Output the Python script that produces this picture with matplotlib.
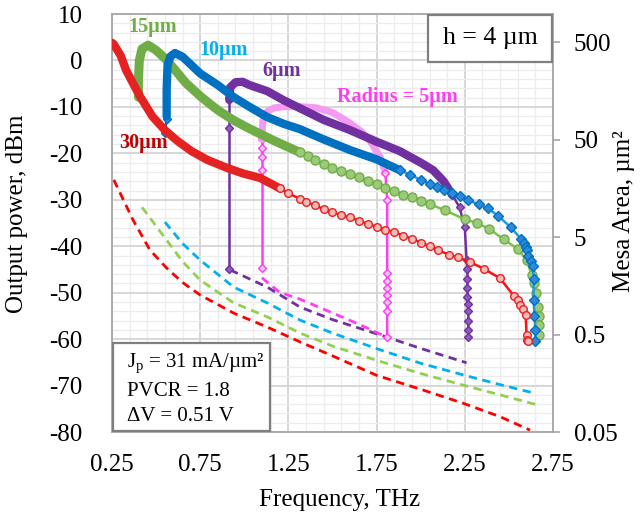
import numpy as np
import matplotlib
matplotlib.use("Agg")
from matplotlib import pyplot as plt
from matplotlib.patches import Rectangle
from matplotlib.ticker import FixedLocator, NullLocator

plt.rcParams['font.family'] = ['Liberation Serif', 'DejaVu Serif']
plt.rcParams['mathtext.fontset'] = 'custom'
plt.rcParams['mathtext.rm'] = 'Liberation Serif'
plt.rcParams['mathtext.it'] = 'Liberation Serif:italic'

# ---- 30 um (red) ----
r30_band_f = [0.25, 0.26, 0.30, 0.33, 0.37, 0.41, 0.48, 0.55, 0.62, 0.70, 0.79, 0.90, 0.99, 1.09, 1.20]
r30_band_p = [3.8, 3.5, 1.0, -2.1, -5.0, -7.8, -12.1, -15.0, -17.3, -19.5, -21.4, -23.1, -24.3, -25.3, -27.5]
r30_f = [1.20, 1.25, 1.316, 1.35, 1.40, 1.45, 1.50, 1.55, 1.60, 1.65, 1.70, 1.75, 1.80, 1.85, 1.90,
         1.95, 2.00, 2.05, 2.10, 2.16, 2.21, 2.28, 2.36, 2.45, 2.53, 2.55, 2.565, 2.58, 2.595, 2.60,
         2.605, 2.61]
r30_p = [-27.5, -28.6, -29.8, -30.4, -31.2, -32.0, -32.7, -33.3, -33.8, -34.5, -35.2, -35.8, -36.4,
         -37.0, -37.7, -38.4, -39.2, -40.0, -40.9, -41.8, -42.4, -43.4, -44.9, -46.9, -50.8, -51.6,
         -52.6, -53.6, -54.8, -59.1, -60.2, -60.5]

# ---- 15 um (green) ----
g15_band_f = [0.40, 0.40, 0.405, 0.42, 0.455, 0.50, 0.56, 0.67, 0.76, 0.85, 0.94, 1.03, 1.17, 1.316]
g15_band_p = [-7.9, -4.0, 0.0, 2.5, 3.3, 2.2, 0.1, -4.9, -8.0, -10.7, -12.9, -14.7, -17.3, -19.8]
g15_f = [1.316, 1.36, 1.40, 1.45, 1.50, 1.55, 1.60, 1.65, 1.70, 1.75, 1.80, 1.85, 1.90, 1.95, 2.00,
         2.05, 2.14, 2.25, 2.32, 2.39, 2.47, 2.55, 2.60, 2.63, 2.645, 2.655, 2.665, 2.67, 2.67, 2.67]
g15_p = [-19.8, -20.6, -21.4, -22.3, -23.1, -23.8, -24.4, -25.2, -26.0, -26.7, -27.4, -28.1, -28.9,
         -29.5, -30.2, -30.9, -32.3, -34.2, -35.0, -36.3, -38.5, -40.6, -43.0, -46.2, -48.0, -50.0,
         -53.0, -55.0, -57.0, -59.1]

# ---- 10 um (blue) ----
b10_stem_f = [0.55, 0.56]
b10_stem_p = [-15.7, -12.6]
b10_band_f = [0.56, 0.56, 0.565, 0.58, 0.607, 0.65, 0.75, 0.85, 0.94, 1.03, 1.13, 1.22, 1.316, 1.45,
              1.60, 1.75, 1.88]
b10_band_p = [-12.0, -6.0, -1.0, 0.8, 1.6, 0.8, -2.8, -5.3, -7.9, -10.0, -12.2, -13.6, -14.8, -17.0,
              -19.3, -21.3, -23.6]
b10_f = [1.88, 1.94, 2.00, 2.05, 2.09, 2.13, 2.18, 2.22, 2.27, 2.33, 2.38, 2.44, 2.51, 2.57, 2.585,
         2.595, 2.60, 2.61, 2.625, 2.635, 2.64, 2.64, 2.645, 2.65, 2.65]
b10_p = [-23.6, -24.6, -25.7, -26.6, -27.3, -27.9, -28.5, -29.2, -30.1, -31.0, -31.8, -33.5, -35.9,
         -38.5, -39.3, -40.2, -40.8, -42.0, -43.2, -44.3, -47.0, -51.6, -55.0, -58.0, -60.3]

# ---- 6 um (purple) ----
p6_stem_f = [0.915, 0.915, 0.915]
p6_stem_p = [-45.0, -14.5, -8.0]
p6_band_f = [0.915, 0.92, 0.95, 0.99, 1.03, 1.13, 1.22, 1.316, 1.45, 1.60, 1.75, 1.88, 2.00, 2.07,
             2.13, 2.18]
p6_band_p = [-8.5, -5.8, -4.7, -4.6, -5.3, -6.6, -8.5, -10.3, -12.8, -15.0, -17.5, -19.5, -22.0,
             -23.6, -26.0, -29.0]
p6_tail_f = [2.18, 2.22, 2.25, 2.26, 2.265, 2.265, 2.265, 2.265, 2.267, 2.27, 2.27, 2.27, 2.27]
p6_tail_p = [-29.0, -31.6, -35.9, -43.0, -45.0, -47.0, -49.0, -51.0, -52.5, -54.0, -56.0, -58.0, -59.6]

# ---- 5 um (magenta) ----
m5_stem_f = [1.10, 1.10, 1.10, 1.10, 1.10]
m5_stem_p = [-44.7, -23.6, -20.8, -18.9, -17.0]
m5_band_f = [1.10, 1.105, 1.13, 1.17, 1.22, 1.30, 1.41, 1.50, 1.60, 1.66, 1.71, 1.77, 1.80]
m5_band_p = [-17.0, -13.0, -11.0, -10.2, -10.0, -9.9, -10.2, -11.2, -13.5, -15.2, -17.1, -20.8, -24.2]
m5_tail_f = [1.80, 1.81, 1.81, 1.81, 1.81, 1.81, 1.81, 1.81, 1.81]
m5_tail_p = [-24.2, -30.0, -45.8, -47.5, -49.0, -50.5, -52.0, -54.0, -59.6]

# ---- dashed curves ----
r30_d_f = [0.26, 0.37, 0.465, 0.56, 0.65, 0.75, 0.94, 1.13, 1.316, 1.50, 1.75, 2.00, 2.24, 2.45, 2.62]
r30_d_p = [-25.7, -34.4, -40.8, -44.7, -47.8, -50.5, -54.4, -57.4, -60.6, -63.6, -67.8, -70.8, -73.8,
           -76.7, -79.6]
g15_d_f = [0.42, 0.56, 0.65, 0.75, 0.94, 1.13, 1.316, 1.50, 1.77, 2.00, 2.24, 2.45, 2.665]
g15_d_p = [-31.6, -38.7, -43.3, -47.3, -52.2, -55.2, -58.7, -61.5, -64.8, -67.4, -69.9, -72.0, -74.2]
b10_d_f = [0.55, 0.65, 0.75, 0.94, 1.13, 1.316, 1.50, 1.77, 2.00, 2.24, 2.45, 2.64]
b10_d_p = [-34.8, -39.4, -43.0, -48.8, -52.2, -55.9, -58.7, -62.3, -65.2, -67.7, -69.8, -71.6]
p6_d_f = [0.92, 1.13, 1.316, 1.50, 1.77, 2.00, 2.26]
p6_d_p = [-45.1, -48.8, -53.1, -55.8, -59.1, -62.0, -65.1]
m5_d_f = [1.10, 1.20, 1.316, 1.49, 1.65, 1.81]
m5_d_p = [-46.8, -49.9, -51.4, -54.2, -56.8, -59.6]

x_ticks = [0.25, 0.75, 1.25, 1.75, 2.25, 2.75]
y_ticks = [-80, -70, -60, -50, -40, -30, -20, -10, 0, 10]
area_ticks = [0.05, 0.5, 5, 50, 500]

RED, GREEN, BLUE, PURPLE, MAG = '#E52222', '#70AD47', '#0070C0', '#7030A0', '#FF3DF5'

fig = plt.figure(figsize=(6.44, 5.21), dpi=100)
ax = fig.add_axes([0.1739, 0.1708, 0.6848, 0.8023])

# dashed
ax.plot(r30_d_f, r30_d_p, '--', color='#FF0000', lw=2, dashes=(3, 2), zorder=2)
ax.plot(g15_d_f, g15_d_p, '--', color='#92D050', lw=2, dashes=(3, 2), zorder=2)
ax.plot(b10_d_f, b10_d_p, '--', color='#00B0F0', lw=2, dashes=(3, 2), zorder=2)
ax.plot(p6_d_f, p6_d_p, '--', color=PURPLE, lw=2, dashes=(3, 2), zorder=2)
ax.plot(m5_d_f, m5_d_p, '--', color=MAG, lw=2, dashes=(3, 2), zorder=2)

# 5 um
ax.plot(m5_stem_f, m5_stem_p, color=MAG, lw=1.8, marker='D', ms=4.5, mfc='#E8C8E8', mec=MAG, zorder=3)
ax.plot(m5_band_f, m5_band_p, color='#F49AF0', lw=5, solid_capstyle='round', zorder=3)
ax.plot(m5_tail_f, m5_tail_p, color=MAG, lw=1.8, marker='D', ms=4.5, mfc='#E8C8E8', mec=MAG, zorder=3)

# 6 um
ax.plot(p6_stem_f, p6_stem_p, color=PURPLE, lw=1.8, marker='D', ms=4.5, mfc='#8E5CC0', mec=PURPLE, zorder=4)
ax.plot(p6_band_f, p6_band_p, color=PURPLE, lw=6, solid_capstyle='round', zorder=4)
ax.plot(p6_tail_f, p6_tail_p, color=PURPLE, lw=1.8, marker='D', ms=4.5, mfc='#8E5CC0', mec=PURPLE, zorder=4)

# 15 um
ax.plot(g15_band_f, g15_band_p, color=GREEN, lw=6.5, solid_capstyle='round', zorder=5)
ax.plot(g15_f, g15_p, color='#7CC242', lw=1.8, marker='o', ms=6.5, mfc='#9BCB78', mec=GREEN, zorder=5)

# 10 um
ax.plot(b10_stem_f, b10_stem_p, color=BLUE, lw=1.8, marker='D', ms=4.5, mfc='#2E8AD8', mec=BLUE, zorder=6)
ax.plot(b10_band_f, b10_band_p, color=BLUE, lw=6, solid_capstyle='round', zorder=6)
ax.plot(b10_f, b10_p, color='#1E9BE0', lw=1.8, marker='D', ms=5, mfc='#2E8AD8', mec=BLUE, zorder=6)

# 30 um
ax.plot(r30_band_f, r30_band_p, color=RED, lw=6, solid_capstyle='round', zorder=7)
ax.plot(r30_f, r30_p, color='#FF1010', lw=1.8, marker='o', ms=5.5, mfc='#F6B8B8', mec=RED, zorder=7)

ax.set_xlim(0.25, 2.75)
ax.set_ylim(-80, 10)
ax.xaxis.set_major_locator(FixedLocator(x_ticks))
ax.xaxis.set_minor_locator(FixedLocator(np.arange(0.25, 2.76, 0.1)))
ax.yaxis.set_major_locator(FixedLocator(y_ticks))
ax.yaxis.set_minor_locator(FixedLocator(np.arange(-80, 11, 2)))
ax.set_xticklabels([f"{t:.2f}" for t in x_ticks])
ax.set_yticklabels([str(t) for t in y_ticks])
ax.tick_params(which='both', length=0, labelsize=18)
ax.tick_params(axis='y', pad=21)
ax.tick_params(axis='x', pad=16)
ax.grid(which='major', color='#D4D4D4', lw=1.3, zorder=0)
ax.grid(which='minor', color='#ECECEC', lw=0.9, zorder=0)
ax.set_axisbelow(True)
for s in ax.spines.values():
    s.set_color('#A6A6A6')
    s.set_linewidth(1.3)

ax2 = ax.twinx()
ax2.set_yscale('log')
ax2.set_ylim(0.05, 0.05 * 10 ** (418 / 97.5))
ax2.yaxis.set_major_locator(FixedLocator(area_ticks))
ax2.yaxis.set_minor_locator(NullLocator())
ax2.set_yticklabels(['0.05', '0.5', '5', '50', '500'])
ax2.tick_params(axis='y', length=5, width=1.2, color='#A6A6A6', labelsize=18, pad=10)
for s in ax2.spines.values():
    s.set_visible(False)

fig.text(17 / 644, 1 - 214 / 521, 'Output power, dBm', rotation=90, ha='center', va='center', fontsize=18)
fig.text(624 / 644, 1 - 211 / 521, 'Mesa Area, µm²', rotation=90, ha='center', va='center', fontsize=18)
fig.text(340 / 644, 1 - 500 / 521, 'Frequency, THz', ha='center', va='center', fontsize=18)

# curve labels
ax.text(0.48, 7.2, '15µm', color=GREEN, fontsize=14.5, fontweight='bold', ha='center', va='center', zorder=9)
ax.text(0.88, 2.2, '10µm', color='#00B0F0', fontsize=14.5, fontweight='bold', ha='center', va='center', zorder=9)
ax.text(1.21, -2.3, '6µm', color=PURPLE, fontsize=14.5, fontweight='bold', ha='center', va='center', zorder=9)
ax.text(1.87, -7.9, 'Radius = 5µm', color=MAG, fontsize=14.5, fontweight='bold', ha='center', va='center', zorder=9)
ax.text(0.43, -17.8, '30µm', color='#C00000', fontsize=14.5, fontweight='bold', ha='center', va='center', zorder=9)

# boxes
ax.add_patch(Rectangle((0.717, 0.885), 0.281, 0.113, transform=ax.transAxes, facecolor='white',
                       edgecolor='#7F7F7F', lw=1.6, zorder=10))
ax.text(0.857, 0.943, 'h = 4 µm', transform=ax.transAxes, ha='center', va='center', fontsize=18.5, zorder=11)
ax.add_patch(Rectangle((0.002, 0.002), 0.356, 0.211, transform=ax.transAxes, facecolor='white',
                       edgecolor='#7F7F7F', lw=1.6, zorder=10))
ax.text(0.034, 0.165, r'J$_\mathregular{p}$ = 31 mA/µm²', transform=ax.transAxes, ha='left', va='center',
        fontsize=15, zorder=11)
ax.text(0.034, 0.097, 'PVCR = 1.8', transform=ax.transAxes, ha='left', va='center', fontsize=15, zorder=11)
ax.text(0.034, 0.038, 'ΔV = 0.51 V', transform=ax.transAxes, ha='left', va='center', fontsize=15, zorder=11)

fig.savefig('out.png', dpi=100)
